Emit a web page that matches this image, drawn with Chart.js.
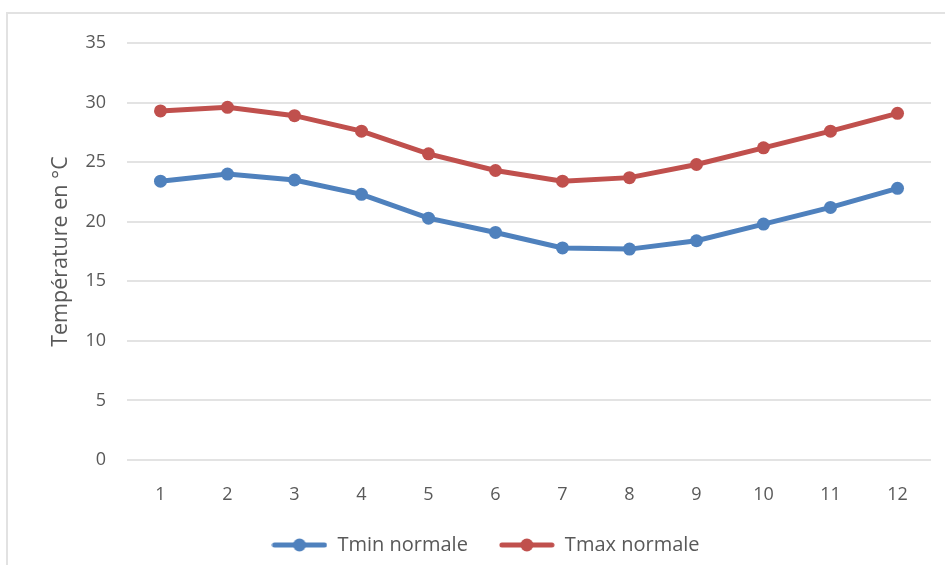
<!DOCTYPE html>
<html>
<head>
<meta charset="utf-8">
<script src="https://cdn.jsdelivr.net/npm/chart.js@4/dist/chart.umd.min.js"></script>
<style>
  html, body { margin: 0; padding: 0; background: #fff; }
  #wrap { position: relative; width: 945px; height: 565px; overflow: hidden; }
  #frame { position: absolute; left: 6px; top: 12px; width: 960px; height: 600px; border: 2px solid #e2e2e2; box-sizing: border-box; }
  canvas { position: absolute; left: 0; top: 0; }
</style>
</head>
<body>
<div id="wrap">
  <div id="frame"></div>
  <canvas id="c" width="945" height="565"></canvas>
</div>
<script>
const months = ['1','2','3','4','5','6','7','8','9','10','11','12'];
const tminNormale = [23.4, 24.0, 23.5, 22.3, 20.3, 19.1, 17.8, 17.7, 18.4, 19.8, 21.2, 22.8];
const tmaxNormale = [29.3, 29.6, 28.9, 27.6, 25.7, 24.3, 23.4, 23.7, 24.8, 26.2, 27.6, 29.1];
const seriesNames = ['Tmin normale', 'Tmax normale'];
const yTitle = 'Température en °C';

const blue = '#4F81BD';
const red = '#C0504D';
const textColor = '#595959';
const FONT = "'Open Sans', 'DejaVu Sans', sans-serif";

function legendIcon(color) {
  const cv = document.createElement('canvas');
  cv.width = 56; cv.height = 16;
  const g = cv.getContext('2d');
  g.strokeStyle = color; g.lineWidth = 5; g.lineCap = 'round';
  g.beginPath(); g.moveTo(3, 8); g.lineTo(53, 8); g.stroke();
  g.fillStyle = color;
  g.beginPath(); g.arc(28, 8, 6.5, 0, Math.PI * 2); g.fill();
  return cv;
}
const icons = [legendIcon(blue), legendIcon(red)];

new Chart(document.getElementById('c'), {
  type: 'line',
  data: {
    labels: months,
    datasets: [
      { label: seriesNames[0], data: tminNormale, borderColor: blue, backgroundColor: blue,
        borderWidth: 5, pointRadius: 6.5, pointHoverRadius: 6.5, pointBackgroundColor: blue, pointBorderWidth: 0, tension: 0 },
      { label: seriesNames[1], data: tmaxNormale, borderColor: red, backgroundColor: red,
        borderWidth: 5, pointRadius: 6.5, pointHoverRadius: 6.5, pointBackgroundColor: red, pointBorderWidth: 0, tension: 0 }
    ]
  },
  options: {
    responsive: false,
    devicePixelRatio: 1,
    animation: false,
    layout: { padding: { left: 40, right: 14, top: 43, bottom: 0 } },
    plugins: {
      tooltip: { enabled: false },
      legend: {
        position: 'bottom',
        labels: {
          usePointStyle: true,
          pointStyleWidth: 56,
          boxHeight: 16,
          padding: 31,
          color: textColor,
          font: { family: FONT, size: 20 },
          generateLabels(chart) {
            const items = Chart.defaults.plugins.legend.labels.generateLabels(chart);
            items.forEach((it, i) => { it.pointStyle = icons[i]; });
            return items;
          }
        }
      }
    },
    scales: {
      x: {
        offset: true,
        grid: { display: false },
        border: { display: false },
        ticks: { color: textColor, font: { family: FONT, size: 18 }, padding: 16 },
        afterFit(scale) { scale.height = 44; }
      },
      y: {
        min: 0, max: 35,
        ticks: { stepSize: 5, color: textColor, font: { family: FONT, size: 18 }, padding: 21 },
        grid: { color: '#e3e3e3', lineWidth: 2, drawTicks: false },
        border: { display: false },
        title: { display: true, text: yTitle, color: textColor, font: { family: FONT, size: 21.5 }, padding: { top: 8, bottom: 0 } },
        afterFit(scale) { scale.width = 87; }
      }
    }
  }
});
</script>
</body>
</html>
